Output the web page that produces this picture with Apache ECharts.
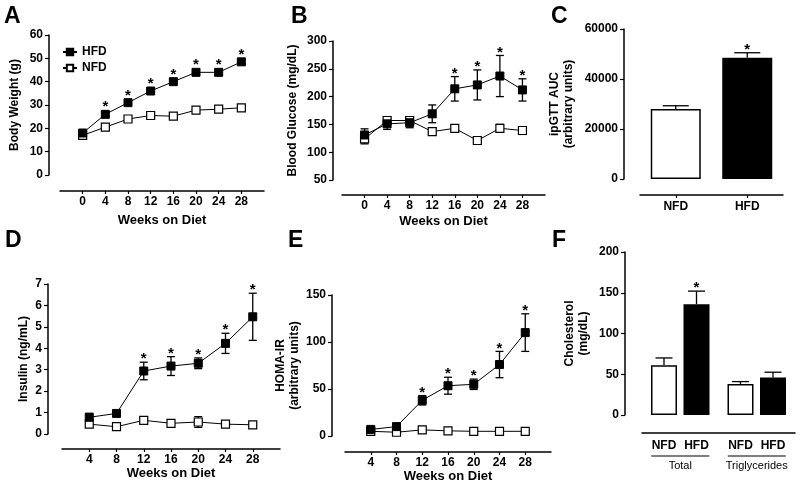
<!DOCTYPE html>
<html><head><meta charset="utf-8">
<script src="https://cdn.jsdelivr.net/npm/echarts@6/dist/echarts.min.js"></script>
<style>html,body{margin:0;padding:0;background:#fff}#c{width:800px;height:490px}</style>
</head><body><div id="c"></div>
<script>
// ---------- data ----------
// A: body weight
const weeksAB = [0,4,8,12,16,20,24,28];
const bwHFD = [18,26,31,36,40,44,44,48.5];
const bwHFDerr = [1,1,1,1,1,1.2,1.2,1.2];
const bwNFD = [17,20.5,24,25.5,25.2,27.8,28.2,28.8];
const bwNFDerr = [0.8,0.8,0.8,0.8,0.8,0.8,0.8,0.8];
const bwSig = [0,1,1,1,1,1,1,1];
// B: blood glucose
const gluHFD = [131,151,153,169,214,221,237,212];
const gluHFDerr = [11,10,9,16,22,27,37,20];
const gluNFD = [124,157,157,137,143,121,143,139];
const gluNFDerr = [9,4,4,6,4,4,7,7];
const gluSig = [0,0,0,0,1,1,1,1];
// C: ipGTT AUC
const aucCats = ['NFD','HFD'];
const aucVals = [28000,48500];
const aucErr = [1300,2000];
const aucSig = [0,1];
// D: insulin
const weeksDE = [4,8,12,16,20,24,28];
const insHFD = [0.78,0.96,2.94,3.17,3.30,4.23,5.47];
const insHFDerr = [0.18,0.1,0.41,0.44,0.25,0.47,1.1];
const insNFD = [0.46,0.34,0.64,0.50,0.56,0.46,0.43];
const insNFDerr = [0.05,0.05,0.15,0.06,0.25,0.05,0.05];
const insSig = [0,0,1,1,1,1,1];
// E: HOMA-IR
const homaHFD = [7,10,38,53.5,55,76,110];
const homaHFDerr = [1.5,3,5,9,5.5,14,20];
const homaNFD = [5,4,6.5,5.5,5,5,5];
const homaNFDerr = [0.5,0.5,0.5,0.5,0.5,0.5,0.5];
const homaSig = [0,0,1,1,1,1,1];
// F: lipids
const lipidGroups = ['Total','Triglycerides'];
const lipidNFD = [61,38];
const lipidNFDerr = [9,3];
const lipidHFD = [136,46];
const lipidHFDerr = [16,6.5];
const lipidHFDsig = [1,0];

// ---------- helpers ----------
const FONT = 'Liberation Sans, Arial, sans-serif';
const lab = {fontFamily: FONT, fontSize: 12, fontWeight: 'bold', color: '#000'};
const axLine = {show: true, onZero: false, lineStyle: {color: '#000', width: 1.5}};

const grids = [], xAxes = [], yAxes = [], series = [];

function yAx(gi, min, max, interval, name, nameGap, offset) {
  yAxes.push({type: 'value', gridIndex: gi, min, max, interval, offset,
    name, nameLocation: 'middle', nameGap, nameRotate: 90,
    nameTextStyle: Object.assign({}, lab, {lineHeight: 14}),
    axisLine: axLine, axisTick: {show: true, length: 4, lineStyle: {color: '#000', width: 1.2}},
    axisLabel: Object.assign({}, lab, {margin: 6, formatter: v => String(v)}), splitLine: {show: false}});
}
function xValAx(gi, min, max, ticks, offset, nameGap) {
  xAxes.push({type: 'value', gridIndex: gi, min, max, interval: 4, offset,
    name: 'Weeks on Diet', nameLocation: 'middle', nameGap,
    nameTextStyle: Object.assign({}, lab, {fontSize: 13}),
    axisLine: axLine,
    axisTick: {show: true, length: 3, customValues: ticks, lineStyle: {color: '#000', width: 1.2}},
    axisLabel: Object.assign({}, lab, {margin: 5, customValues: ticks,
      formatter: v => (ticks.indexOf(v) >= 0 ? String(v) : '')}),
    splitLine: {show: false}});
}
function errSeries(gi, xs, means, errs, both, capW, dx) {
  series.push({type: 'custom', xAxisIndex: gi, yAxisIndex: gi, z: 2, silent: true,
    data: xs.map((x, i) => [x, means[i], errs[i]]),
    renderItem: (params, api) => {
      const x = api.value(0), m = api.value(1), e = api.value(2);
      const top = api.coord([x, m + e]);
      const bot = both ? api.coord([x, m - e]) : api.coord([x, m]);
      const cx = top[0] + (dx || 0);
      const st = {stroke: '#000', lineWidth: 1.3};
      const ch = [
        {type: 'line', shape: {x1: cx, y1: top[1], x2: cx, y2: bot[1]}, style: st},
        {type: 'line', shape: {x1: cx - capW/2, y1: top[1], x2: cx + capW/2, y2: top[1]}, style: st}];
      if (both) ch.push({type: 'line', shape: {x1: cx - capW/2, y1: bot[1], x2: cx + capW/2, y2: bot[1]}, style: st});
      return {type: 'group', children: ch};
    }});
}
function starSeries(gi, xs, means, errs, sig, dx) {
  series.push({type: 'custom', xAxisIndex: gi, yAxisIndex: gi, z: 5, silent: true,
    data: xs.map((x, i) => [x, means[i], errs[i], sig[i]]),
    renderItem: (params, api) => {
      if (!api.value(3)) return null;
      const x = api.value(0), m = api.value(1), e = api.value(2);
      const p = api.coord([x, m]);
      const t = api.coord([x, m + e]);
      const top = Math.min(t[1], p[1] - 4);
      return {type: 'text', style: {text: '*', x: p[0] + (dx || 0), y: top - 3,
        textAlign: 'center', textVerticalAlign: 'middle', font: 'bold 15px ' + FONT, fill: '#000'}};
    }});
}
function lineSeries(gi, name, xs, vals, filled) {
  series.push({type: 'line', name, xAxisIndex: gi, yAxisIndex: gi, z: filled ? 4 : 3,
    data: xs.map((x, i) => [x, vals[i]]),
    symbol: 'rect', symbolSize: 8,
    lineStyle: {color: '#000', width: 1},
    itemStyle: filled ? {color: '#000', borderColor: '#000', borderWidth: 1}
                      : {color: '#fff', borderColor: '#000', borderWidth: 1.2}});
}
function linePanel(gi, grid, xmin, xmax, xs, xoff, xgap, ymin, ymax, yint, yname, ngap, yoff, hfd, hfdE, nfd, nfdE, sig, nameTag) {
  grids.push(grid);
  xValAx(gi, xmin, xmax, xs, xoff, xgap);
  yAx(gi, ymin, ymax, yint, yname, ngap, yoff);
  errSeries(gi, xs, nfd, nfdE, true, 8);
  errSeries(gi, xs, hfd, hfdE, true, 8);
  lineSeries(gi, 'NFD' + nameTag, xs, nfd, false);
  lineSeries(gi, 'HFD' + nameTag, xs, hfd, true);
  starSeries(gi, xs, hfd, hfdE, sig);
}

// A
linePanel(0, {left: 60, top: 35, width: 204, height: 140}, -4, 32, weeksAB, 16, 23,
  0, 60, 10, 'Body Weight (g)', 27, 11, bwHFD, bwHFDerr, bwNFD, bwNFDerr, bwSig, '');
// B
linePanel(1, {left: 342, top: 41, width: 203, height: 139}, -4, 32, weeksAB, 15, 20,
  50, 300, 50, 'Blood Glucose (mg/dL)', 33, 9, gluHFD, gluHFDerr, gluNFD, gluNFDerr, gluSig, ' B');
// C
grids.push({left: 640, top: 29, width: 143, height: 150});
xAxes.push({type: 'category', gridIndex: 2, data: aucCats, offset: 16,
  axisLine: axLine, axisTick: {show: true, alignWithLabel: true, length: 3, lineStyle: {color: '#000', width: 1.2}},
  axisLabel: Object.assign({}, lab, {margin: 6})});
yAx(2, 0, 60000, 20000, 'ipGTT AUC\n(arbitrary units)', 48, 16);
errSeries(2, [0, 1], aucVals, aucErr, false, 26);
series.push({type: 'bar', xAxisIndex: 2, yAxisIndex: 2, barWidth: 50, z: 3,
  data: aucVals.map((v, i) => ({value: v, itemStyle: i === 0
    ? {color: '#fff', borderColor: '#000', borderWidth: 1.5}
    : {color: '#000', borderColor: '#000', borderWidth: 1.5}}))});
starSeries(2, [0, 1], aucVals, aucErr, aucSig);
// D
linePanel(3, {left: 62, top: 284, width: 218, height: 150}, 0, 32, weeksDE, 15, 17,
  0, 7, 1, 'Insulin (ng/mL)', 17, 14, insHFD, insHFDerr, insNFD, insNFDerr, insSig, ' D');
// E
linePanel(4, {left: 345, top: 295, width: 206, height: 141}, 0, 32, weeksDE, 16, 16,
  0, 150, 50, 'HOMA-IR\n(arbitrary units)', 26, 13, homaHFD, homaHFDerr, homaNFD, homaNFDerr, homaSig, ' E');
// F
const fBarW = 26, fGap = 6.5, fShift = (fBarW + fGap) / 2;
grids.push({left: 642, top: 252, width: 153, height: 163});
xAxes.push({type: 'category', gridIndex: 5, data: lipidGroups, offset: 18,
  axisLine: axLine, axisTick: {show: false},
  axisLabel: {interval: 0, margin: 6, color: '#000', fontFamily: FONT,
    formatter: v => '{n|NFD}{h|HFD}\n{l| }\n{t|' + v + '}',
    rich: {
      n: {width: fShift * 2, align: 'center', fontFamily: FONT, fontSize: 12, fontWeight: 'bold', color: '#000', lineHeight: 14},
      h: {width: fShift * 2, align: 'center', fontFamily: FONT, fontSize: 12, fontWeight: 'bold', color: '#000', lineHeight: 14},
      l: {width: 58, height: 1, lineHeight: 6, fontSize: 1, backgroundColor: '#000'},
      t: {fontFamily: FONT, fontSize: 11, color: '#000', lineHeight: 14}
    }}});
yAx(5, 0, 200, 50, 'Cholesterol\n(mg/dL)', 34, 17);
errSeries(5, [0, 1], lipidNFD, lipidNFDerr, false, 17, -fShift);
errSeries(5, [0, 1], lipidHFD, lipidHFDerr, false, 17, fShift);
series.push({type: 'bar', name: 'NFD F', xAxisIndex: 5, yAxisIndex: 5, barWidth: fBarW, barGap: (fGap / fBarW * 100) + '%', z: 3,
  data: lipidNFD, itemStyle: {color: '#fff', borderColor: '#000', borderWidth: 1.5}});
series.push({type: 'bar', name: 'HFD F', xAxisIndex: 5, yAxisIndex: 5, barWidth: fBarW, z: 3,
  data: lipidHFD, itemStyle: {color: '#000', borderColor: '#000', borderWidth: 1.5}});
starSeries(5, [0, 1], lipidHFD, lipidHFDerr, lipidHFDsig, fShift);

const letter = (t, l, tp) => ({text: t, left: l, top: tp, padding: 0,
  textStyle: {fontFamily: FONT, fontSize: 23, fontWeight: 'bold', color: '#000'}});

const chart = echarts.init(document.getElementById('c'), null, {renderer: 'canvas'});
chart.setOption({
  animation: false,
  backgroundColor: '#fff',
  title: [letter('A', 4, 5), letter('B', 291, 5), letter('C', 551, 5),
          letter('D', 5, 229), letter('E', 288, 229), letter('F', 552, 229)],
  legend: {left: 57, top: 41, orient: 'vertical', itemWidth: 14, itemHeight: 8, itemGap: 4,
    data: ['HFD', 'NFD'], textStyle: Object.assign({}, lab, {fontSize: 12}), selectedMode: false},
  grid: grids, xAxis: xAxes, yAxis: yAxes, series
});
</script></body></html>
